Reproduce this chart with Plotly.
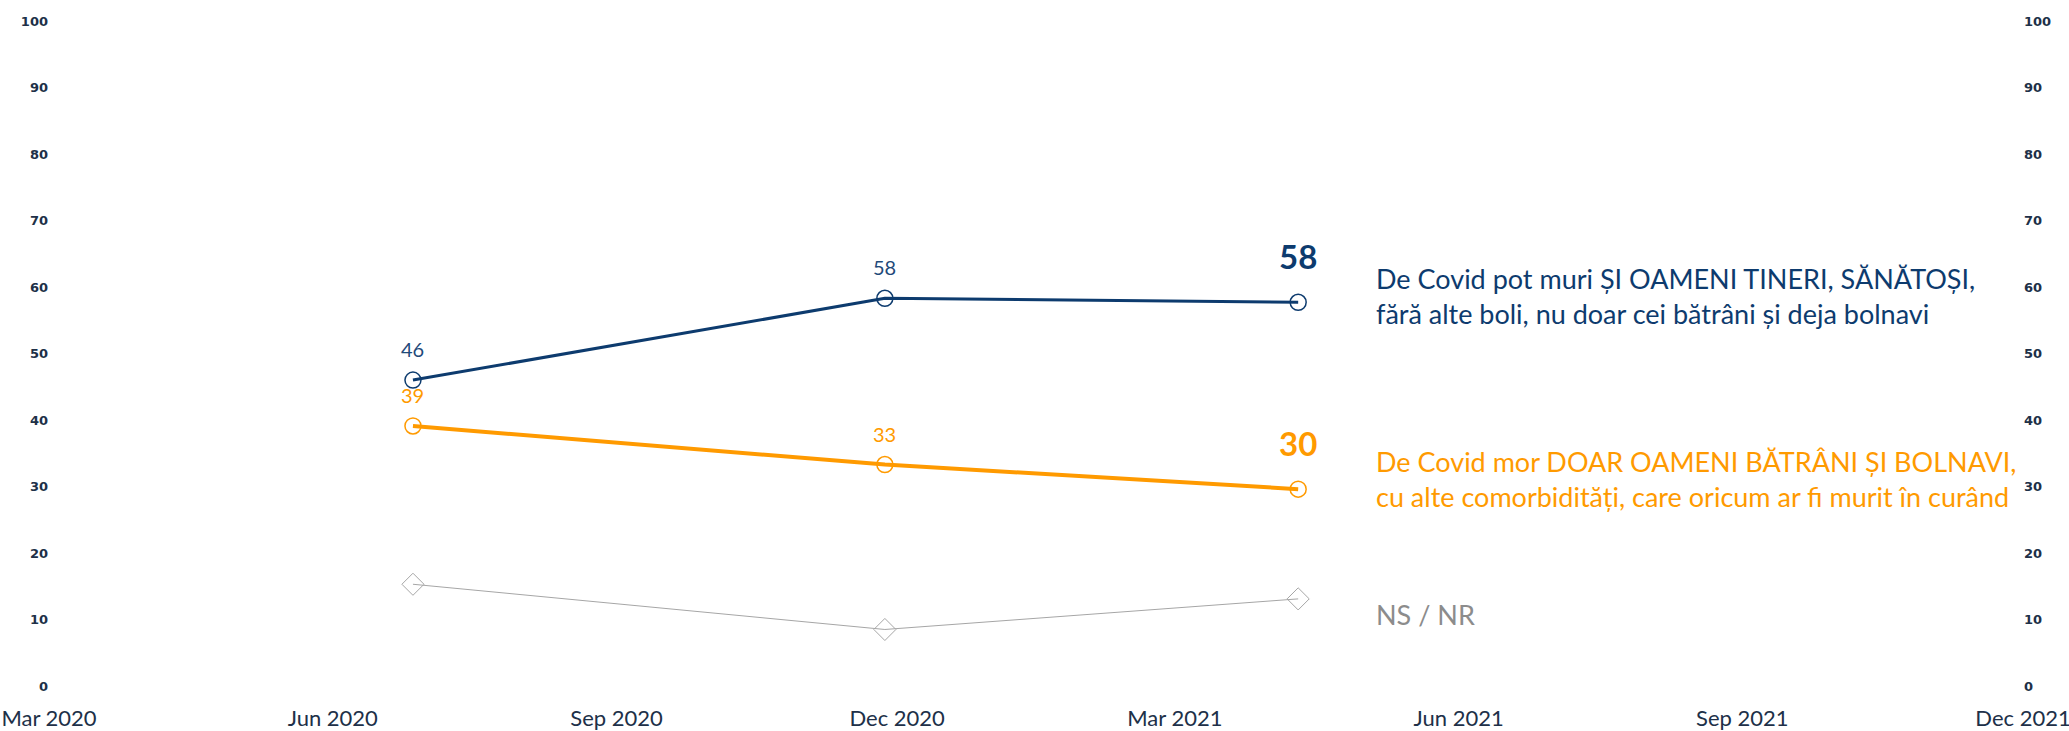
import plotly.graph_objects as go

dates = ["2020-06-27", "2020-11-27", "2021-04-10"]
tineri = [46, 58.3, 57.7]
batrani = [39.1, 33.3, 29.6]
nsnr = [15.3, 8.5, 13.1]
tineri_lbl = ["46", "58", "<b>58</b>"]
batrani_lbl = ["39", "33", "<b>30</b>"]
yticks = [0, 10, 20, 30, 40, 50, 60, 70, 80, 90, 100]
xticks = ["2020-03-01", "2020-06-01", "2020-09-01", "2020-12-01",
          "2021-03-01", "2021-06-01", "2021-09-01", "2021-12-01"]
xticklabels = ["Mar 2020", "Jun 2020", "Sep 2020", "Dec 2020",
               "Mar 2021", "Jun 2021", "Sep 2021", "Dec 2021"]

BLUE = "#0D3B6E"
BLUE_LBL = "#1F4A7A"
ORANGE = "#FF9A00"
GRAY = "#A6A6A6"
FONT = "Lato, Open Sans, sans-serif"

fig = go.Figure()
fig.add_trace(go.Scatter(
    x=dates, y=nsnr, mode="lines+markers",
    line=dict(color=GRAY, width=1),
    marker=dict(symbol="diamond-open", size=17, color=GRAY, line=dict(width=1)),
    showlegend=False, hoverinfo="skip"))
fig.add_trace(go.Scatter(
    x=dates, y=batrani, mode="lines+markers",
    line=dict(color=ORANGE, width=4),
    marker=dict(symbol="circle-open", size=16, color=ORANGE, line=dict(width=1.5)),
    showlegend=False, hoverinfo="skip"))
fig.add_trace(go.Scatter(
    x=dates, y=tineri, mode="lines+markers",
    line=dict(color=BLUE, width=3),
    marker=dict(symbol="circle-open", size=16, color=BLUE, line=dict(width=1.5)),
    showlegend=False, hoverinfo="skip"))
# invisible trace to anchor the right-hand axis
fig.add_trace(go.Scatter(
    x=dates, y=tineri, yaxis="y2", mode="markers",
    marker=dict(opacity=0), showlegend=False, hoverinfo="skip"))

# value labels above the points (last one larger and bold)
for vals, lbls, colors in ((batrani, batrani_lbl, [ORANGE, ORANGE, ORANGE]),
                           (tineri, tineri_lbl, [BLUE_LBL, BLUE_LBL, BLUE])):
    for i, (xv, yv, lb) in enumerate(zip(dates, vals, lbls)):
        last = i == len(vals) - 1
        fig.add_annotation(x=xv, y=yv, xref="x", yref="y", text=lb, showarrow=False,
                           xanchor="center", yanchor="middle",
                           yshift=46 if last else 31,
                           font=dict(color=colors[i], size=33 if last else 20, family=FONT))

ann_x = 0.671
fig.add_annotation(xref="paper", yref="y", x=ann_x, y=58.7, xanchor="left", yanchor="middle",
                   showarrow=False, align="left",
                   text="De Covid pot muri ȘI OAMENI TINERI, SĂNĂTOȘI,<br>fără alte boli, nu doar cei bătrâni și deja bolnavi",
                   font=dict(color=BLUE, size=27, family=FONT))
fig.add_annotation(xref="paper", yref="y", x=ann_x, y=31.2, xanchor="left", yanchor="middle",
                   showarrow=False, align="left",
                   text="De Covid mor DOAR OAMENI BĂTRÂNI ȘI BOLNAVI,<br>cu alte comorbidități, care oricum ar fi murit în curând",
                   font=dict(color=ORANGE, size=27, family=FONT))
fig.add_annotation(xref="paper", yref="y", x=ann_x, y=10.8, xanchor="left", yanchor="middle",
                   showarrow=False, align="left", text="NS / NR",
                   font=dict(color="#8C8C8C", size=27, family=FONT))

yfont = dict(family="DejaVu Sans", size=13, color="#203048", weight="bold")
fig.update_layout(
    width=2069, height=731,
    margin=dict(l=49, r=46, t=21, b=45),
    paper_bgcolor="white", plot_bgcolor="white",
    xaxis=dict(type="date", range=["2020-03-01", "2021-12-01"],
               tickvals=xticks, ticktext=xticklabels, automargin=False,
               ticklabeloverflow="allow",
               tickfont=dict(family=FONT, size=22, color="#203048"),
               ticks="outside", ticklen=13, tickcolor="rgba(0,0,0,0)",
               showgrid=False, zeroline=False, showline=False),
    yaxis=dict(range=[0, 100], tickvals=yticks, tickfont=yfont, automargin=False,
               showgrid=False, zeroline=False, showline=False, ticks=""),
    yaxis2=dict(range=[0, 100], tickvals=yticks, tickfont=yfont, overlaying="y",
                automargin=False,
                side="right", showgrid=False, zeroline=False, showline=False, ticks=""),
)
fig.write_html("out.html", config={"displayModeBar": False},
               post_script="document.body.style.margin='0';document.body.style.overflow='hidden';")
